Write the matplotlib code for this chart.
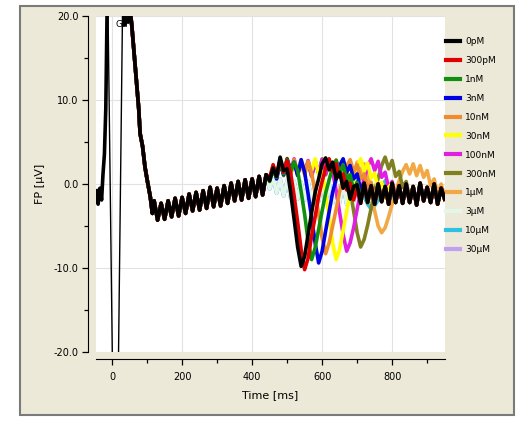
import matplotlib
matplotlib.use("Agg")
import matplotlib.pyplot as plt
from matplotlib.patches import Rectangle
import numpy as np

labels = ["0pM", "300pM", "1nM", "3nM", "10nM", "30nM", "100nM", "300nM",
          "1µM", "3µM", "10µM", "30µM"]
colors = ["#000000", "#E00000", "#109010", "#0000E0", "#F08C30", "#FFFF00",
          "#E020E0", "#808020", "#F2A844", "#E4F6EA", "#30C0E0", "#C0A0F0"]

# stimulus artifact + population spike, shared by every trace
early_time = [-45, -40, -35, -30, -26, -22, -18, -13, 2, 17, 31, 36, 41, 46,
              51, 56, 60, 65, 71, 76, 80, 87, 94, 101, 109, 115]
early_fp = [-0.8, -2.4, -0.5, -1.9, 1.2, 3.5, 9.0, 25.0, -25.0, -25.0, 25.0,
            19.0, 20.5, 19.3, 20.8, 19.0, 17.0, 14.5, 11.5, 9.0, 6.0, 4.5,
            2.0, 0.3, -1.5, -3.5]
art_first, art_last = 7, 10  # fast artifact sweep, drawn thin

# settled baseline, sampled every 10 ms from 120 to 950 ms
base_time = np.arange(120, 951, 10)
base_fp = [-2.0, -4.3, -2.3, -4.2, -2.0, -3.9, -1.7, -3.8, -1.6, -3.5,
           -1.2, -3.2, -1.0, -3.1, -0.8, -2.9, -0.4, -2.7, -0.5, -2.6,
           -0.2, -2.3, 0.1, -2.0, 0.3, -1.9, 0.5, -1.7, 0.6, -1.5,
           0.9, -1.3, 1.1, -0.6, 0.8, -1.1, 0.6, -1.4, 0.4, -1.6,
           0.3, -1.8, 0.2, -1.9, 0.3, -2.0, 0.1, -2.1, 0.2, -2.2,
           0.0, -2.3, 0.1, -2.2, 0.0, -2.4, 0.2, -2.1, -0.1, -2.3,
           0.1, -2.2, -0.2, -2.4, 0.0, -2.1, -0.3, -2.4, 0.1, -2.2,
           -0.2, -2.3, 0.0, -2.2, -0.3, -2.5, 0.1, -2.0, -0.4, -2.2,
           0.0, -2.4, -0.5, -1.8]

# late wave of each concentration, every 10 ms from wave_start
fp_0pM = [0.4, 1.9, 0.9, 3.2, 1.6, 1.8, -1.0, -4.2, -7.5, -9.8, -8.6, -6.0,
          -3.4, -1.0, 0.6, 2.4, 3.1, 1.7, 2.6, 0.6, 1.4, -0.5, 0.3, -1.8, -0.3]
fp_300pM = [0.7, 2.3, 1.0, 2.9, 1.4, 2.8, 1.3, -1.4, -4.5, -7.8, -10.2, -8.8,
            -6.2, -3.9, -1.5, 0.3, 1.9, 3.0, 1.5, 2.4, 0.8, 1.2, -0.7, 0.1,
            -1.9, -0.5]
fp_1nM = [0.3, 1.7, 0.8, 2.7, 1.2, 2.9, 1.5, 2.6, 1.6, -0.9, -3.6, -6.8,
          -9.0, -7.6, -5.4, -3.2, -1.1, 0.5, 2.0, 2.8, 1.3, 2.3, 0.5, 1.1,
          -0.8, 0.2, -1.8, -0.4]
fp_3nM = [0.5, 2.0, 0.6, 2.5, 1.1, 3.0, 1.7, 2.6, 1.0, 2.9, 1.4, -1.2, -4.0,
          -7.0, -9.4, -8.0, -5.6, -3.3, -1.0, 0.6, 2.2, 3.0, 1.4, 2.2, 0.6,
          1.2, -0.7, 0.1, -1.9, -0.3]
fp_10nM = [0.6, 1.8, 1.0, 2.8, 1.3, 2.6, 1.1, 2.9, 1.5, 2.4, 1.2, 2.7, 1.3,
           -1.0, -3.6, -6.4, -8.3, -7.0, -5.0, -3.0, -0.9, 0.7, 2.1, 2.9,
           1.4, 2.3, 0.6, 1.2, -0.6, 0.2, -1.8, -0.3]
fp_30nM = [0.8, 2.1, 0.9, 2.6, 1.5, 3.1, 1.2, 2.7, 1.4, 2.9, 1.0, 2.5, 1.6,
           3.0, 1.2, 1.6, -1.1, -3.9, -7.0, -9.0, -7.8, -5.5, -3.3, -1.1,
           0.5, 2.0, 3.0, 1.5, 2.5, 0.7, 1.3, -0.6, 0.2, -1.7, -0.4]
fp_100nM = [0.5, 1.9, 0.7, 2.8, 1.2, 2.6, 1.5, 3.0, 1.1, 2.5, 1.4, 2.8, 1.0,
            2.6, 1.3, 2.9, 1.2, 2.7, 1.5, -0.8, -3.4, -6.0, -8.0, -7.0, -5.2,
            -3.0, -0.9, 0.6, 2.1, 3.0, 1.6, 2.7, 0.8, 1.4, -0.5, 0.3, -1.7,
            -0.4]
fp_300nM = [0.6, 2.0, 1.1, 2.7, 1.0, 2.9, 1.4, 2.5, 1.2, 2.8, 1.5, 2.6, 0.9,
            2.7, 1.3, 3.0, 1.1, 2.5, 1.4, 2.8, 1.2, 2.6, 1.4, -0.8, -3.2,
            -5.8, -7.5, -6.6, -4.9, -2.9, -0.8, 0.7, 2.2, 3.2, 1.8, 2.8, 0.9,
            1.5, -0.4, 0.3, -1.6, -0.4]
fp_1uM = [0.7, 1.8, 0.9, 2.6, 1.3, 2.8, 1.1, 2.6, 1.5, 2.9, 1.2, 2.4, 1.0,
          2.7, 1.4, 2.8, 1.1, 2.6, 1.3, 2.9, 1.0, 2.5, 1.4, 2.7, 1.2, 2.6,
          1.3, 2.4, 1.0, -1.0, -3.2, -5.0, -5.8, -5.2, -3.9, -2.4, -0.9, 0.4,
          1.5, 2.3, 1.2, 2.4, 1.0, 2.2, 0.8, 1.6, -0.2, 0.6, -1.2, 0.0, -1.4]
fp_3uM = []
fp_10uM = [0.3, -0.8, -1.5, -2.4, -3.0, -2.6, -1.9, -0.8, 0.4, -0.5, -1.2]
fp_30uM = []

waves = [fp_0pM, fp_300pM, fp_1nM, fp_3nM, fp_10nM, fp_30nM, fp_100nM,
         fp_300nM, fp_1uM, fp_3uM, fp_10uM, fp_30uM]
wave_start = [450, 450, 450, 450, 450, 450, 450, 450, 450, 450, 700, 450]

fig = plt.figure(figsize=(5.2, 4.21), dpi=100, facecolor="white")
fig.patches.append(Rectangle((20 / 520, 1 - 415 / 421), 494 / 520, 409 / 421,
                             transform=fig.transFigure, facecolor="#ECE9D8",
                             edgecolor="#7A7A7A", lw=1.5, zorder=-10))

ax = fig.add_axes([96 / 520, 1 - 352 / 421, 349 / 520, 336 / 421])
ax.set_facecolor("white")

# the pre-stimulus part and the artifact are identical for all traces
ax.plot(early_time[:art_first + 1], early_fp[:art_first + 1], color="black",
        lw=2.6, zorder=29)
ax.plot(early_time[art_first:art_last + 1], early_fp[art_first:art_last + 1],
        color="black", lw=1.0, zorder=30)

# draw highest concentration first so 0pM ends up on top
for i in reversed(range(len(labels))):
    wave = waves[i]
    start = wave_start[i]
    end = start + 10 * len(wave)
    wave_time = np.arange(start, end, 10)[:len(wave)]
    before = base_time < start
    after = base_time >= end
    t = np.concatenate([early_time[art_last:], base_time[before],
                        wave_time, base_time[after]])
    v = np.concatenate([early_fp[art_last:], np.array(base_fp)[before],
                        wave, np.array(base_fp)[after]])
    ax.plot(t, v, color=colors[i], lw=2.6, label=labels[i],
            zorder=3 + len(labels) - i)

ax.text(11, 19.0, "Ga", fontsize=6.5, va="center", ha="left", zorder=31)

ax.set_xlim(-46, 951)
ax.set_ylim(-20, 20)
ax.set_xticks([0, 200, 400, 600, 800])
ax.set_xticks(np.arange(100, 951, 200), minor=True)
ax.set_yticks([-20, -10, 0, 10, 20])
ax.set_yticks([-15, -5, 5, 15], minor=True)
ax.set_yticklabels(["-20.0", "-10.0", "0.0", "10.0", "20.0"])
ax.grid(True, which="major", color="#E2E2E2", lw=0.8, zorder=0)
ax.set_axisbelow(True)

for side in ["top", "right"]:
    ax.spines[side].set_visible(False)
ax.spines["left"].set_position(("outward", 6))
ax.spines["bottom"].set_position(("outward", 5))
ax.tick_params(which="major", length=4.5, width=0.9, labelsize=7, pad=2)
ax.tick_params(which="minor", length=3, width=0.9)
ax.tick_params(axis="x", which="major", pad=5)

ax.set_xlabel("Time [ms]", fontsize=8, labelpad=6)
ax.set_ylabel("FP [µV]", fontsize=8, labelpad=6)

handles, _ = ax.get_legend_handles_labels()
leg = ax.legend(handles[::-1], labels, loc="upper left",
                bbox_to_anchor=(446 / 520, 1 - 37 / 421),
                bbox_transform=fig.transFigure, frameon=False, fontsize=6.5,
                handlelength=1.5, handletextpad=0.6, labelspacing=1.1,
                borderpad=0, borderaxespad=0)
for line in leg.get_lines():
    line.set_linewidth(3)

fig.savefig("out.png", dpi=100, facecolor=fig.get_facecolor())
